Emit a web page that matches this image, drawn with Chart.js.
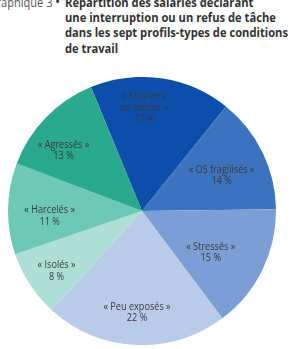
<!DOCTYPE html>
<html>
<head>
<meta charset="utf-8">
<script src="https://cdn.jsdelivr.net/npm/chart.js@4"></script>
<style>
html,body{margin:0;padding:0;background:#fff;width:301px;height:349px;overflow:hidden;position:relative;font-family:"Open Sans",sans-serif;}
#lab{position:absolute;right:249px;top:-5px;font-size:12px;line-height:15px;color:#555;white-space:nowrap;transform:scaleX(0.92);transform-origin:right top;}
#bul{position:absolute;left:55px;top:-6px;font-size:14px;line-height:15px;color:#333;}
#title{position:absolute;left:65px;top:-5px;width:260px;font-size:11.9px;line-height:15.2px;font-weight:bold;color:#333;white-space:nowrap;transform:scaleX(0.94);transform-origin:left top;}
#wrap{position:absolute;left:8px;top:77px;width:268px;height:268px;}
</style>
</head>
<body>
<div id="lab">Graphique 3</div>
<div id="bul">•</div>
<div id="title">Répartition des salariés déclarant<br>une interruption ou un refus de tâche<br>dans les sept profils-types de conditions<br>de travail</div>
<div id="wrap"><canvas id="c"></canvas></div>
<script>
const categories = ["« Ouvriers\nde métier »", "« OS fragilisés »", "« Stressés »", "« Peu exposés »", "« Isolés »", "« Harcelés »", "« Agressés »"];
const values = [17, 14, 15, 22, 8, 11, 13];
const colors = ["#0c4ea9", "#3d72be", "#7b9fd4", "#b9cbe9", "#addfd5", "#6dc8b6", "#2aa98f"];
// label placement style (radius factor, angle shift in degrees)
const labelRadius = [0.77, 0.65, 0.6, 0.76, 0.78, 0.69, 0.74];
const labelShift = [-7, 2, 5, 0, -2, -4, -6.5];

const labelPlugin = {
  id: 'sliceLabels',
  afterDatasetsDraw(chart) {
    const ctx = chart.ctx;
    const meta = chart.getDatasetMeta(0);
    ctx.save();
    ctx.font = '10.5px "Open Sans", sans-serif';
    ctx.fillStyle = '#3a3a3a';
    ctx.textAlign = 'center';
    ctx.textBaseline = 'middle';
    const sx = 0.87;
    meta.data.forEach((arc, i) => {
      const p = arc.getProps(['x','y','startAngle','endAngle','outerRadius'], true);
      const mid = (p.startAngle + p.endAngle) / 2 + labelShift[i] * Math.PI / 180;
      const r = p.outerRadius * labelRadius[i];
      const x = p.x + Math.cos(mid) * r;
      const y = p.y + Math.sin(mid) * r;
      const lines = categories[i].split('\n').concat([values[i] + ' %']);
      const lh = 11.5;
      lines.forEach((t, k) => {
        ctx.save();
        ctx.translate(x, y + (k - (lines.length - 1) / 2) * lh);
        ctx.scale(sx, 1);
        ctx.fillText(t, 0, 0);
        ctx.restore();
      });
    });
    ctx.restore();
  }
};

new Chart(document.getElementById('c'), {
  type: 'pie',
  data: {
    labels: categories,
    datasets: [{ data: values, backgroundColor: colors, borderWidth: 0 }]
  },
  options: {
    responsive: true,
    maintainAspectRatio: false,
    animation: false,
    rotation: -22.4,
    layout: { padding: 0 },
    plugins: { legend: { display: false }, tooltip: { enabled: false } }
  },
  plugins: [labelPlugin]
});
</script>
</body>
</html>
